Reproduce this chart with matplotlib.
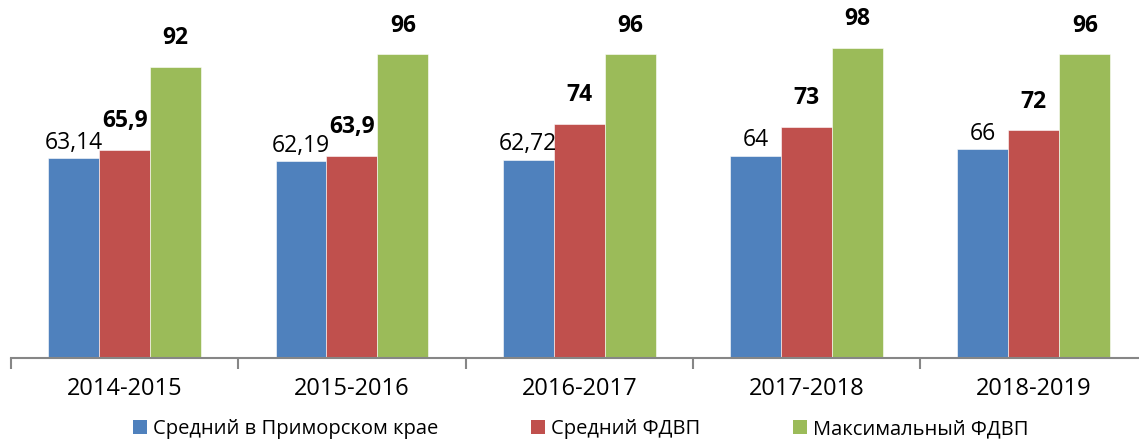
import matplotlib.pyplot as plt
import numpy as np
from matplotlib.patches import Patch

plt.rcParams['font.family'] = ['Open Sans', 'DejaVu Sans']

years = ['2014-2015', '2015-2016', '2016-2017', '2017-2018', '2018-2019']
series_names = ['Средний в Приморском крае', 'Средний ФДВП', 'Максимальный ФДВП']
avg_primorye = [63.14, 62.19, 62.72, 64, 66]
avg_fdvp = [65.9, 63.9, 74, 73, 72]
max_fdvp = [92, 96, 96, 98, 96]
colors = ['#4F81BD', '#C0504D', '#9BBB59']


def fmt(v):
    s = ('%.2f' % v).rstrip('0').rstrip('.')
    return s.replace('.', ',')


fig = plt.figure(figsize=(11.39, 4.43), dpi=100)
ax = fig.add_axes([11 / 1139, 85 / 443, 1136.5 / 1139, 358 / 443])

x = np.arange(len(years))
w = 0.224
data = [avg_primorye, avg_fdvp, max_fdvp]
for i, (vals, c) in enumerate(zip(data, colors)):
    pos = x + (i - 1) * w
    ax.bar(pos, vals, width=w, color=c, edgecolor='white', linewidth=0.4)
    bold = i > 0
    for p, v in zip(pos, vals):
        ax.annotate(fmt(v), (p, v), xytext=(0, 12 if bold else 2.5),
                    textcoords='offset points', ha='center', va='bottom',
                    fontsize=16.5, fontweight='bold' if bold else 'normal')

ax.set_xlim(-0.5, 4.5)
ax.set_ylim(0, 113.2)
ax.set_yticks([])
for s in ['top', 'right', 'left']:
    ax.spines[s].set_visible(False)
ax.spines['bottom'].set_color('#868686')
ax.spines['bottom'].set_linewidth(1.5)

ax.set_xticks(x)
ax.set_xticklabels(years, fontsize=17)
ax.tick_params(axis='x', which='major', length=0, pad=14)
ax.set_xticks(np.arange(-0.5, 5, 1), minor=True)
ax.tick_params(axis='x', which='minor', length=8, width=1.5, color='#868686')

handles = [Patch(facecolor=c, edgecolor='none') for c in colors]
fig.legend(handles, series_names, loc='lower center', ncol=3, frameon=False,
           fontsize=14.5, handlelength=0.7, handleheight=0.7, handletextpad=0.3,
           columnspacing=4.6, bbox_to_anchor=(0.51, -0.032))

fig.savefig('out.png', dpi=100)
